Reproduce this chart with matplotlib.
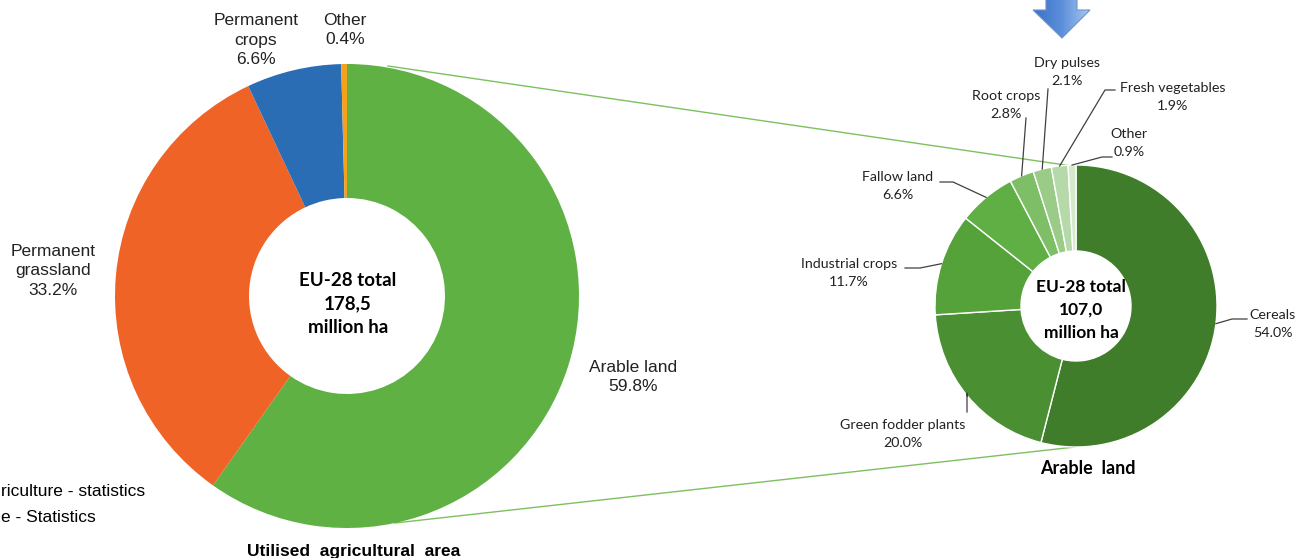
import numpy as np
import matplotlib
matplotlib.use("Agg")
import matplotlib.pyplot as plt
from matplotlib.patches import Polygon

# ---------------- data ----------------
uaa_labels = ["Arable land", "Permanent\ngrassland", "Permanent\ncrops", "Other"]
uaa_values = [59.8, 33.2, 6.6, 0.4]
uaa_colors = ["#5EB142", "#EF6426", "#2A6DB5", "#F4A11E"]

arable_labels = ["Cereals", "Green fodder plants", "Industrial crops", "Fallow land",
                 "Root crops", "Dry pulses", "Fresh vegetables", "Other"]
arable_values = [54.0, 20.0, 11.7, 6.6, 2.8, 2.1, 1.9, 0.9]
arable_colors = ["#3F7D2B", "#4A8F32", "#55A13A", "#60AF44",
                 "#7DBE66", "#9ACC88", "#B5D9A8", "#D4EACB"]

W, H = 1306, 558
fig = plt.figure(figsize=(W / 100, H / 100), dpi=100)
ax = fig.add_axes([0, 0, 1, 1])

def Y(y):
    return H - y

# ---------------- left donut ----------------
lc = (347, Y(296)); lr = 232; lhole = 98
ax.pie(uaa_values, colors=uaa_colors, startangle=90, counterclock=False,
       center=lc, radius=lr, wedgeprops=dict(width=lr - lhole, linewidth=0))

# ---------------- right donut ----------------
rc = (1076, Y(306)); rr = 141; rhole = 55
wedges, _ = ax.pie(arable_values, colors=arable_colors, startangle=90, counterclock=False,
                   center=rc, radius=rr,
                   wedgeprops=dict(width=rr - rhole, linewidth=1.0, edgecolor="white"))

ax.set_xlim(0, W)
ax.set_ylim(0, H)
ax.set_aspect("equal")
ax.axis("off")

# connecting lines (zoom from arable land slice)
ax.plot([388, 1072], [Y(66), Y(166)], color="#7CC160", lw=1.0, zorder=0)
ax.plot([395, 1075], [Y(523), Y(447)], color="#7CC160", lw=1.0, zorder=0)

# ---------------- centre texts ----------------
cfont = ["Lato", "DejaVu Sans"]
ax.text(348, Y(304), "EU-28 total\n178,5\nmillion ha", ha="center", va="center",
        fontsize=13.5, fontweight="bold", family=cfont, linespacing=1.45)
ax.text(1081, Y(310), "EU-28 total\n107,0\nmillion ha", ha="center", va="center",
        fontsize=12.5, fontweight="bold", family=cfont, linespacing=1.5)

# ---------------- left labels ----------------
afont = ["Liberation Sans", "DejaVu Sans"]
left_pos = {
    "Arable land": (633, 377),
    "Permanent\ngrassland": (53, 271),
    "Permanent\ncrops": (256, 40),
    "Other": (345, 30),
}
for lab, val in zip(uaa_labels, uaa_values):
    x, y = left_pos[lab]
    ax.text(x, Y(y), f"{lab}\n{val:.1f}%", ha="center", va="center",
            fontsize=12.5, family=afont, color="#222222", linespacing=1.35)

# ---------------- right labels with leader lines ----------------
sfont = ["Lato", "DejaVu Sans"]
# label centre position and leader path (elbow points) in pixel coords
right_pos = {
    "Cereals": ((1273, 324), [(1232, 319), (1247, 319)]),
    "Green fodder plants": ((903, 434), [(967, 393), (967, 412)]),
    "Industrial crops": ((849, 273), [(920, 268), (905, 268)]),
    "Fallow land": ((898, 186), [(953, 182), (940, 182)]),
    "Root crops": ((1006, 105), [(1026, 118)]),
    "Dry pulses": ((1067, 72), [(1048, 89)]),
    "Fresh vegetables": ((1173, 97), [(1105, 90), (1115, 90)]),
    "Other": ((1129, 143), [(1102, 157), (1112, 157)]),
}
cum = 0.0
for lab, val in zip(arable_labels, arable_values):
    mid = cum + val / 2
    cum += val
    ang = np.deg2rad(90 - mid / 100 * 360)
    px = rc[0] + rr * np.cos(ang)
    py = rc[1] + rr * np.sin(ang)
    (tx, ty), path = right_pos[lab]
    xs = [px] + [p[0] for p in path]
    ys = [py] + [Y(p[1]) for p in path]
    ax.plot(xs, ys, color="#404040", lw=0.9, zorder=3)
    ax.text(tx, Y(ty), f"{lab}\n{val:.1f}%", ha="center", va="center",
            fontsize=10.3, family=sfont, color="#222222", linespacing=1.6)

# ---------------- titles ----------------
ax.text(1088, Y(468), "Arable  land", ha="center", va="center",
        fontsize=13, fontweight="bold", family=cfont)
ax.text(354, Y(556), "Utilised  agricultural  area", ha="center", va="baseline",
        fontsize=12.5, fontweight="bold", family=afont)

# source text, partly hidden at the left edge in the reference
ax.text(1, Y(491), "riculture - statistics", ha="left", va="center",
        fontsize=12.5, family=afont)
ax.text(1, Y(517), "e - Statistics", ha="left", va="center",
        fontsize=12.5, family=afont)

# ---------------- blue arrow at top ----------------
arrow_xy = [(1046, Y(-2)), (1077, Y(-2)), (1077, Y(10)), (1090, Y(10)),
            (1062, Y(38)), (1033, Y(10)), (1046, Y(10))]
poly = Polygon(arrow_xy, closed=True, facecolor="none", edgecolor="#6D93CF", lw=0.8, zorder=4)
ax.add_patch(poly)
grad = np.linspace(0, 1, 256).reshape(1, -1)
cmap = matplotlib.colors.LinearSegmentedColormap.from_list("ab", ["#3A6FC7", "#5C8FDA", "#A8C7F2"])
im = ax.imshow(grad, cmap=cmap, extent=[1033, 1090, Y(38), Y(-2)], aspect="auto", zorder=3)
im.set_clip_path(poly)
ax.set_xlim(0, W)
ax.set_ylim(0, H)

fig.savefig("out.png", dpi=100)
